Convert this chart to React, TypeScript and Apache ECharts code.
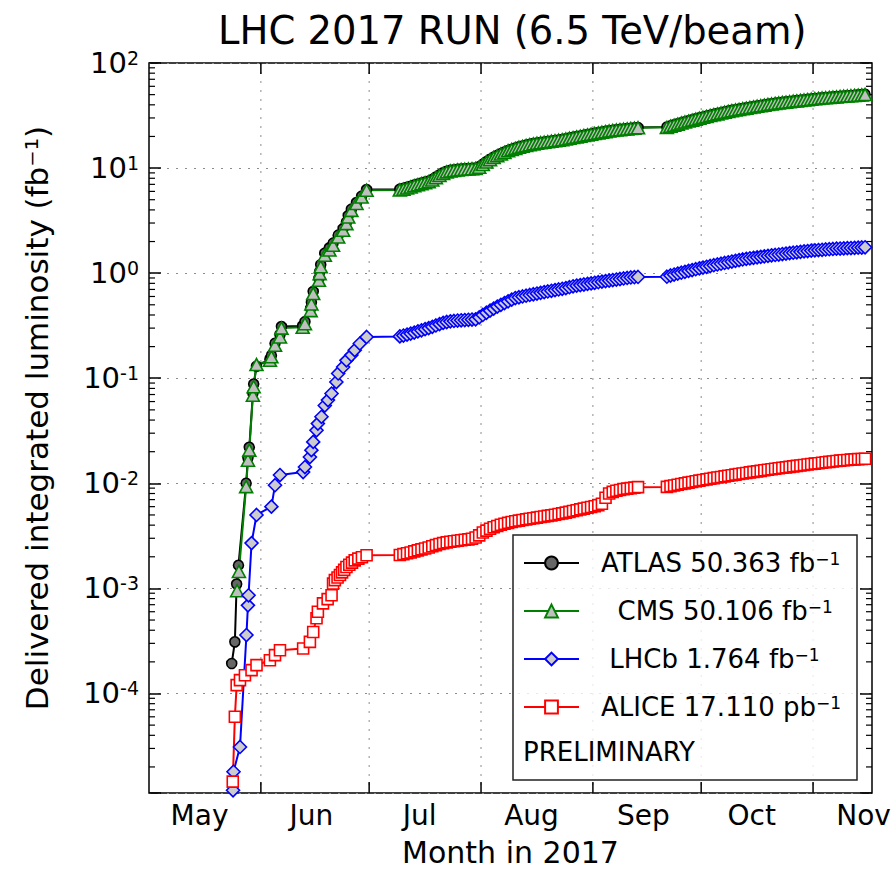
import React, { useEffect, useRef } from 'react';
import * as echarts from 'echarts';

const FONT = 'DejaVu Sans';
const DAY = 86400000;

// ---------- axis definitions ----------
const X_MIN = '05-01 00:00';
const X_MAX = '11-17 08:00';
const Y_MIN = 1.13e-5;
const Y_MAX = 100;
const monthStarts = ['06-01 00:00', '07-01 00:00', '08-01 00:00', '09-01 00:00', '10-01 00:00', '11-01 00:00'];
const monthLabels = ['May', 'Jun', 'Jul', 'Aug', 'Sep', 'Oct', 'Nov'];
const monthLabelDates = ['05-15 00:00', '06-15 00:00', '07-15 00:00', '08-15 00:00', '09-15 00:00', '10-15 00:00', '11-15 00:00'];
const minorMantissas = [2, 3, 4, 5, 6, 7, 8, 9];
const minorDecades = [-5, -4, -3, -2, -1, 0, 1];

// ---------- series data (fb^-1, ALICE in pb^-1) ----------
const seriesNames = ['ATLAS', 'CMS', 'LHCb', 'ALICE'];
const legendLabels: Record<string, string> = {
  ATLAS: 'ATLAS 50.363 fb',
  CMS: '\u00a0\u00a0CMS 50.106 fb',
  LHCb: '\u00a0LHCb 1.764 fb',
  ALICE: 'ALICE 17.110 pb',
};

const atlasEarly: [string, number][] = [
  ['05-23 22:00', 0.000193], ['05-24 19:00', 0.00031], ['05-25 07:00', 0.0011], ['05-25 19:00', 0.00166],
  ['05-27 22:00', 0.010], ['05-28 10:00', 0.0175], ['05-28 19:00', 0.022], ['05-29 19:00', 0.072],
  ['05-30 00:00', 0.088], ['05-30 19:00', 0.13], ['06-03 12:00', 0.152], ['06-03 22:00', 0.165],
  ['06-04 22:00', 0.215], ['06-06 07:00', 0.26], ['06-06 17:00', 0.31], ['06-12 14:00', 0.315],
  ['06-13 05:00', 0.345], ['06-14 19:00', 0.46], ['06-15 00:00', 0.53], ['06-15 12:00', 0.67],
  ['06-17 02:00', 0.89], ['06-17 07:00', 1.03], ['06-17 14:00', 1.2], ['06-18 17:00', 1.55],
  ['06-20 00:00', 1.74], ['06-21 00:00', 1.93], ['06-22 10:00', 2.3], ['06-23 19:00', 2.66],
  ['06-24 17:00', 3.06], ['06-25 05:00', 3.53], ['06-26 02:00', 4.06], ['06-27 12:00', 4.7],
  ['06-28 22:00', 5.4], ['06-30 07:00', 6.25],
];
// daily values from Jul 9 to Sep 13
const atlasJulSep = [
  6.3, 6.4, 6.55, 6.7, 6.9, 7.05, 7.2, 7.35, 7.5, 7.8, 8.2, 8.6, 9.0, 9.3, 9.5, 9.6, 9.7, 9.8, 9.85, 9.9, 9.95, 10.0, 10.3,
  10.9, 11.5, 12.1, 12.7, 13.2, 13.7, 14.2, 14.7, 15.1, 15.5, 15.9, 16.2, 16.5, 16.8, 17.1, 17.3, 17.5, 17.7, 17.9, 18.1, 18.3, 18.5, 18.7, 19.0, 19.3, 19.6, 19.9, 20.2, 20.5, 20.8, 21.1,
  21.4, 21.7, 22.0, 22.3, 22.6, 22.9, 23.1, 23.3, 23.5, 23.7, 23.9, 24.1, 24.3,
];
// daily values from Sep 21 to Nov 14
const atlasSepNov = [
  24.6, 25.2, 25.8, 26.4, 27.0, 27.6, 28.2, 28.8, 29.4, 30.0,
  30.6, 31.2, 31.8, 32.4, 33.0, 33.6, 34.2, 34.8, 35.4, 35.9, 36.4, 36.9, 37.4, 37.9, 38.4, 38.9, 39.4, 39.9, 40.4, 40.9, 41.4, 41.8, 42.2, 42.6, 43.0, 43.4, 43.8, 44.2, 44.6, 45.0, 45.4,
  45.8, 46.2, 46.6, 46.9, 47.2, 47.5, 47.8, 48.1, 48.4, 48.7, 49.0, 49.3, 49.7, 50.0,
];
const atlasFinal: [string, number] = ['11-15 10:00', 50.363];

const cmsEarly: [string, number][] = [
  ['05-25 10:00', 0.00095], ['05-25 22:00', 0.00145], ['05-27 22:00', 0.0093], ['05-28 10:00', 0.0166],
  ['05-28 19:00', 0.0207], ['05-29 19:00', 0.069], ['05-30 00:00', 0.083], ['05-30 19:00', 0.135],
  ['06-03 12:00', 0.148], ['06-03 22:00', 0.16], ['06-04 22:00', 0.206], ['06-06 07:00', 0.247],
  ['06-06 17:00', 0.30], ['06-12 14:00', 0.305], ['06-13 05:00', 0.33], ['06-14 19:00', 0.44],
  ['06-15 00:00', 0.51], ['06-15 12:00', 0.64], ['06-17 02:00', 0.855], ['06-17 07:00', 0.99],
  ['06-17 14:00', 1.15], ['06-18 17:00', 1.48], ['06-20 00:00', 1.66], ['06-21 00:00', 1.84],
  ['06-22 10:00', 2.21], ['06-23 19:00', 2.56], ['06-24 17:00', 2.96], ['06-25 05:00', 3.43],
  ['06-26 02:00', 3.96], ['06-27 12:00', 4.6], ['06-28 22:00', 5.3], ['06-30 07:00', 6.15],
];
const cmsJulSep = [
  6.2, 6.3, 6.45, 6.6, 6.8, 6.95, 7.1, 7.25, 7.4, 7.7, 8.1, 8.5, 8.9, 9.2, 9.4, 9.5, 9.6, 9.7, 9.75, 9.8, 9.85, 9.9, 10.2,
  10.8, 11.4, 12.0, 12.6, 13.1, 13.6, 14.1, 14.6, 15.0, 15.4, 15.8, 16.1, 16.4, 16.7, 17.0, 17.2, 17.4, 17.6, 17.8, 18.0, 18.2, 18.4, 18.6, 18.9, 19.2, 19.5, 19.8, 20.1, 20.4, 20.7, 21.0,
  21.3, 21.6, 21.9, 22.2, 22.5, 22.8, 23.0, 23.2, 23.4, 23.6, 23.8, 24.0, 24.2,
];
const cmsSepNov = [
  24.4, 25.0, 25.6, 26.2, 26.8, 27.4, 28.0, 28.6, 29.2, 29.8,
  30.4, 31.0, 31.6, 32.2, 32.8, 33.4, 34.0, 34.6, 35.2, 35.7, 36.2, 36.7, 37.2, 37.7, 38.2, 38.7, 39.2, 39.7, 40.2, 40.7, 41.2, 41.6, 42.0, 42.4, 42.8, 43.2, 43.6, 44.0, 44.4, 44.8, 45.2,
  45.6, 46.0, 46.4, 46.7, 47.0, 47.3, 47.6, 47.9, 48.2, 48.5, 48.8, 49.1, 49.4, 49.7,
];
const cmsFinal: [string, number] = ['11-15 10:00', 50.106];

const lhcbEarly: [string, number][] = [
  ['05-24 07:00', 0.000012], ['05-24 10:00', 0.000018], ['05-26 05:00', 0.000031], ['05-28 00:00', 0.00036],
  ['05-28 10:00', 0.00069], ['05-28 14:00', 0.00086], ['05-29 10:00', 0.0027], ['05-30 19:00', 0.0050],
  ['06-03 22:00', 0.0060], ['06-04 22:00', 0.0096], ['06-06 07:00', 0.012], ['06-12 17:00', 0.0128],
  ['06-13 05:00', 0.0143], ['06-14 14:00', 0.0178], ['06-15 00:00', 0.0207], ['06-15 12:00', 0.0248],
  ['06-16 10:00', 0.032], ['06-16 19:00', 0.037], ['06-17 19:00', 0.043], ['06-18 17:00', 0.055],
  ['06-19 14:00', 0.062], ['06-20 14:00', 0.0715], ['06-21 22:00', 0.092], ['06-22 10:00', 0.111],
  ['06-23 19:00', 0.128], ['06-24 17:00', 0.148], ['06-26 02:00', 0.166], ['06-27 00:00', 0.185],
  ['06-28 10:00', 0.214], ['06-30 07:00', 0.247],
];
const lhcbJulSep = [
  0.250, 0.255, 0.26, 0.266, 0.272, 0.279, 0.286, 0.293, 0.300, 0.309, 0.318, 0.327, 0.336, 0.343, 0.348, 0.351, 0.354, 0.356, 0.358, 0.36, 0.362, 0.364, 0.38,
  0.40, 0.42, 0.44, 0.46, 0.48, 0.50, 0.52, 0.54, 0.56, 0.58, 0.59, 0.60, 0.61, 0.62, 0.63, 0.64, 0.65, 0.66, 0.67, 0.68, 0.69, 0.70, 0.71, 0.72, 0.735, 0.75, 0.76, 0.77, 0.78, 0.79, 0.80,
  0.81, 0.82, 0.83, 0.84, 0.85, 0.86, 0.87, 0.88, 0.89, 0.90, 0.91, 0.915, 0.92,
];
const lhcbSepNov = [
  0.925, 0.95, 0.97, 0.99, 1.01, 1.03, 1.05, 1.07, 1.09, 1.11,
  1.13, 1.15, 1.17, 1.19, 1.21, 1.23, 1.25, 1.27, 1.29, 1.31, 1.33, 1.35, 1.37, 1.385, 1.40, 1.415, 1.43, 1.445, 1.46, 1.475, 1.49, 1.505, 1.52, 1.535, 1.55, 1.565, 1.58, 1.595, 1.61, 1.625, 1.64,
  1.65, 1.66, 1.67, 1.68, 1.69, 1.70, 1.71, 1.715, 1.72, 1.73, 1.735, 1.74, 1.75, 1.755,
];
const lhcbFinal: [string, number] = ['11-15 10:00', 1.764];

// ALICE values in pb^-1
const aliceEarly: [string, number][] = [
  ['05-24 05:00', 0.0145], ['05-24 19:00', 0.060], ['05-25 07:00', 0.12], ['05-26 05:00', 0.134],
  ['05-27 14:00', 0.149], ['05-29 10:00', 0.167], ['05-30 19:00', 0.186], ['06-03 12:00', 0.207],
  ['06-04 22:00', 0.232], ['06-06 07:00', 0.258], ['06-12 17:00', 0.268], ['06-14 14:00', 0.31],
  ['06-15 12:00', 0.385], ['06-16 10:00', 0.52], ['06-16 19:00', 0.60], ['06-18 05:00', 0.72],
  ['06-19 12:00', 0.79], ['06-20 14:00', 0.86], ['06-21 00:00', 1.11], ['06-21 12:00', 1.2],
  ['06-22 06:00', 1.27], ['06-22 22:00', 1.34], ['06-23 12:00', 1.42], ['06-24 02:00', 1.5],
  ['06-24 17:00', 1.6], ['06-25 12:00', 1.68], ['06-26 06:00', 1.76], ['06-27 00:00', 1.85],
  ['06-28 00:00', 1.92], ['06-29 00:00', 1.98], ['06-30 07:00', 2.07],
];
const aliceJulSep = [
  2.08, 2.12, 2.16, 2.2, 2.25, 2.3, 2.35, 2.4, 2.45, 2.52, 2.58, 2.65, 2.7, 2.74, 2.78, 2.81, 2.84, 2.87, 2.9, 2.93, 2.97, 3.05, 3.2,
  3.4, 3.55, 3.7, 3.82, 3.93, 4.03, 4.12, 4.2, 4.28, 4.35, 4.42, 4.48, 4.54, 4.6, 4.66, 4.72, 4.78, 4.84, 4.9, 4.96, 5.02, 5.1, 5.18, 5.26, 5.35, 5.45, 5.55, 5.65, 5.75, 5.85, 5.95,
  6.05, 6.2, 6.4, 7.3, 8.0, 8.3, 8.5, 8.65, 8.8, 8.9, 9.0, 9.1, 9.2,
];
const aliceSepNov = [
  9.25, 9.4, 9.55, 9.7, 9.85, 10.0, 10.15, 10.3, 10.45, 10.6,
  10.75, 10.9, 11.05, 11.2, 11.35, 11.5, 11.65, 11.8, 11.95, 12.1, 12.25, 12.4, 12.55, 12.7, 12.85, 13.0, 13.15, 13.3, 13.45, 13.6, 13.75, 13.9, 14.05, 14.2, 14.35, 14.5, 14.65, 14.8, 14.95, 15.1, 15.25,
  15.4, 15.55, 15.7, 15.85, 16.0, 16.15, 16.3, 16.45, 16.6, 16.7, 16.8, 16.9, 16.98, 17.05,
];
const aliceFinal: [string, number] = ['11-15 10:00', 17.11];

const JUL_START = '07-09 12:00';
const SEP_START = '09-21 12:00';

function ts(s: string): number {
  return new Date('2017-' + s.replace(' ', 'T') + ':00').getTime();
}
function build(early: [string, number][], julSep: number[], sepNov: number[], final: [string, number], scale = 1) {
  const out: [number, number][] = [];
  early.forEach(([d, v]) => out.push([ts(d), v * scale]));
  const t1 = ts(JUL_START);
  julSep.forEach((v, i) => out.push([t1 + i * DAY, v * scale]));
  const t2 = ts(SEP_START);
  sepNov.forEach((v, i) => out.push([t2 + i * DAY, v * scale]));
  out.push([ts(final[0]), final[1] * scale]);
  return out;
}

function lineSeries(name: string, data: [number, number][], symbol: string, size: any, lineColor: string, fill: string, edge: string) {
  return {
    name,
    type: 'line',
    data,
    symbol,
    symbolSize: size,
    showSymbol: true,
    showAllSymbol: true,
    lineStyle: { color: lineColor, width: 2 },
    itemStyle: { color: fill, borderColor: edge, borderWidth: 1.6 },
    emphasis: { disabled: true },
    silent: true,
    z: 3,
  };
}

function buildOption() {
  const textBase = { fontFamily: FONT, color: '#000' };
  const minorData: [number, number][] = [];
  minorDecades.forEach((k) =>
    minorMantissas.forEach((m) => {
      const v = m * Math.pow(10, k);
      if (v > Y_MIN && v < Y_MAX) minorData.push([ts(X_MIN), v]);
    })
  );

  return {
    animation: false,
    backgroundColor: '#ffffff',
    title: {
      text: 'LHC 2017 RUN (6.5 TeV/beam)',
      left: 218,
      top: 11,
      padding: 0,
      textStyle: { ...textBase, fontSize: 38.5, fontWeight: 'normal' },
    },
    grid: {
      left: 149, right: 21, top: 63, bottom: 78,
      outerBoundsMode: 'none',
      containLabel: false,
      show: true, borderColor: '#000', borderWidth: 1.5, backgroundColor: 'transparent',
    },
    xAxis: {
      type: 'time',
      min: ts(X_MIN),
      max: ts(X_MAX),
      name: 'Month in 2017',
      nameLocation: 'middle',
      nameGap: 46,
      nameTextStyle: { ...textBase, fontSize: 30, lineHeight: 26 },
      axisLine: { show: false },
      axisTick: { show: false },
      axisLabel: { show: false },
      splitLine: { show: false },
    },
    yAxis: [
      {
        type: 'log',
        logBase: 10,
        min: Y_MIN,
        max: Y_MAX,
        name: 'Delivered integrated luminosity (fb\u207b\u00b9)',
        nameLocation: 'middle',
        nameGap: 97,
        nameTextStyle: { ...textBase, fontSize: 31, padding: [0, 0, 0, 20] },
        axisLine: { show: false },
        axisTick: { show: true, inside: true, length: 12, lineStyle: { color: '#000', width: 1.5 } },
        axisLabel: {
          margin: 10,
          formatter: (v: number) => {
            const e = Math.log10(v);
            const r = Math.round(e);
            if (Math.abs(e - r) > 1e-6) return '';
            return `{b|10}{s|${r}}`;
          },
          rich: {
            b: { ...textBase, fontSize: 29 },
            s: { ...textBase, fontSize: 19, verticalAlign: 'top' },
          },
        },
        splitLine: { show: true, lineStyle: { color: '#8c8c8c', width: 1, type: [2, 7] } },
      },
      {
        type: 'log',
        logBase: 10,
        min: Y_MIN,
        max: Y_MAX,
        position: 'right',
        axisLine: { show: false },
        axisTick: { show: true, inside: true, length: 12, lineStyle: { color: '#000', width: 1.5 } },
        axisLabel: { show: false },
        splitLine: { show: false },
      },
    ],
    legend: {
      orient: 'vertical',
      left: 523,
      top: 550,
      padding: 0,
      itemWidth: 55,
      itemHeight: 16,
      itemGap: 22,
      selectedMode: false,
      data: seriesNames,
      formatter: (name: string) => `{n|${legendLabels[name]}}{s|\u22121}`,
      textStyle: {
        ...textBase,
        fontSize: 26,
        rich: {
          n: { ...textBase, fontSize: 26, padding: [0, 0, 0, 17] },
          s: { ...textBase, fontSize: 17, verticalAlign: 'top' },
        },
      },
    },
    graphic: [
      {
        type: 'rect',
        z: 1,
        shape: { x: 513, y: 535, width: 344, height: 245 },
        style: { fill: 'rgba(255,255,255,0.8)', stroke: '#222', lineWidth: 1.5 },
        silent: true,
      },
      {
        type: 'text',
        z: 5,
        x: 523,
        y: 752,
        style: { text: 'PRELIMINARY', fontFamily: FONT, fontSize: 26, fill: '#000', verticalAlign: 'middle', align: 'left' },
        silent: true,
      },
    ],
    series: [
      {
        type: 'custom',
        name: 'monthGrid',
        silent: true,
        z: 0,
        data: monthStarts.map((d) => [ts(d), 1]),
        encode: { x: 0, y: 1 },
        renderItem: (params: any, api: any) => {
          const cs = params.coordSys;
          const x = api.coord([api.value(0), 1])[0];
          const top = cs.y;
          const bottom = cs.y + cs.height;
          return {
            type: 'group',
            children: [
              { type: 'line', shape: { x1: x, y1: top, x2: x, y2: bottom }, style: { stroke: '#8c8c8c', lineWidth: 1, lineDash: [2, 7] } },
              { type: 'line', shape: { x1: x, y1: bottom, x2: x, y2: bottom - 11 }, style: { stroke: '#000', lineWidth: 1.5 } },
              { type: 'line', shape: { x1: x, y1: top, x2: x, y2: top + 11 }, style: { stroke: '#000', lineWidth: 1.5 } },
            ],
          };
        },
      },
      {
        type: 'custom',
        name: 'minorTicks',
        silent: true,
        z: 0,
        data: minorData,
        encode: { x: 0, y: 1 },
        renderItem: (params: any, api: any) => {
          const cs = params.coordSys;
          const y = api.coord([api.value(0), api.value(1)])[1];
          return {
            type: 'group',
            children: [
              { type: 'line', shape: { x1: cs.x, y1: y, x2: cs.x + 6, y2: y }, style: { stroke: '#000', lineWidth: 1.2 } },
              { type: 'line', shape: { x1: cs.x + cs.width - 6, y1: y, x2: cs.x + cs.width, y2: y }, style: { stroke: '#000', lineWidth: 1.2 } },
            ],
          };
        },
      },
      {
        type: 'custom',
        name: 'monthLabels',
        silent: true,
        z: 0,
        data: monthLabelDates.map((d) => [ts(d), 1]),
        encode: { x: 0, y: 1 },
        renderItem: (params: any, api: any) => {
          const cs = params.coordSys;
          const x = api.coord([api.value(0), 1])[0];
          return {
            type: 'text',
            x,
            y: cs.y + cs.height + 22,
            style: {
              text: monthLabels[params.dataIndex],
              fontFamily: FONT,
              fontSize: 28,
              fill: '#000',
              align: 'center',
              verticalAlign: 'middle',
            },
          };
        },
      },
      lineSeries('ATLAS', build(atlasEarly, atlasJulSep, atlasSepNov, atlasFinal), 'circle', 10, '#000000', '#666666', '#000000'),
      lineSeries('CMS', build(cmsEarly, cmsJulSep, cmsSepNov, cmsFinal), 'triangle', [13, 12], '#008000', '#bfbfbf', '#008000'),
      lineSeries('LHCb', build(lhcbEarly, lhcbJulSep, lhcbSepNov, lhcbFinal), 'diamond', 13, '#0000ff', '#cccccc', '#0000ff'),
      lineSeries('ALICE', build(aliceEarly, aliceJulSep, aliceSepNov, aliceFinal, 0.001), 'rect', 11, '#ff0000', '#ffffff', '#ff0000'),
    ],
  };
}

export default function App() {
  const ref = useRef<HTMLDivElement>(null);
  useEffect(() => {
    if (!ref.current) return;
    const chart = echarts.init(ref.current, null, { renderer: 'svg' });
    chart.setOption(buildOption() as any);
    return () => chart.dispose();
  }, []);
  return (
    <div
      ref={ref}
      style={{ position: 'fixed', left: 0, top: 0, width: 893, height: 871, background: '#fff' }}
    />
  );
}
